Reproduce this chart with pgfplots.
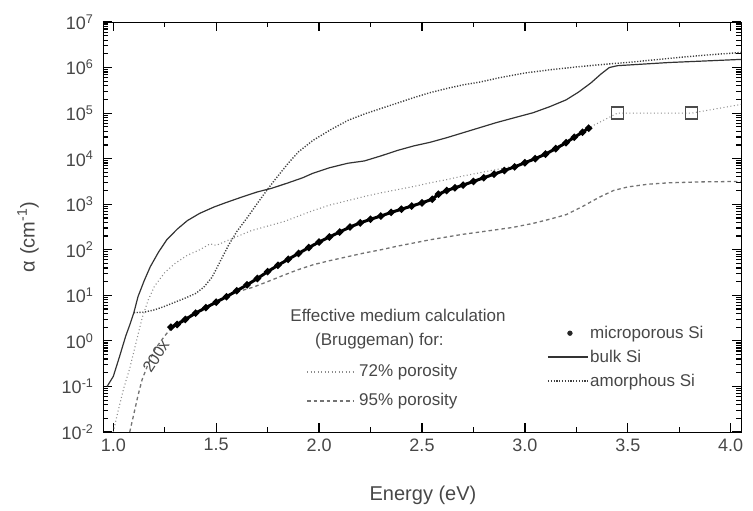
\documentclass[border=0pt]{standalone}
\usepackage{fontspec}
\setmainfont{Liberation Sans}
\usepackage{pgfplots}
\pgfplotsset{compat=1.18}

\definecolor{txt}{gray}{0.28}

\begin{document}
\begin{tikzpicture}
\path[use as bounding box] (-103pt,-79pt) rectangle (650pt,432pt);
\begin{axis}[
  at={(0pt,0pt)}, anchor=south west,
  scale only axis, width=638pt, height=410pt,
  xmin=0.95, xmax=4.05,
  ymode=log, ymin=1e-2, ymax=1e7,
  xtick={1,1.5,2,2.5,3,3.5,4},
  xticklabels={1.0,1.5,2.0,2.5,3.0,3.5,4.0},
  minor xtick={1.25,1.75,2.25,2.75,3.25,3.75},
  ytick={1e-2,1e-1,1,1e1,1e2,1e3,1e4,1e5,1e6,1e7},
  yticklabels={10\textsuperscript{-2},10\textsuperscript{-1},10\textsuperscript{0},10\textsuperscript{1},10\textsuperscript{2},10\textsuperscript{3},10\textsuperscript{4},10\textsuperscript{5},10\textsuperscript{6},10\textsuperscript{7}},
  minor ytick={0.02,0.03,0.04,0.05,0.06,0.07,0.08,0.09,
    0.2,0.3,0.4,0.5,0.6,0.7,0.8,0.9,
    2,3,4,5,6,7,8,9,
    20,30,40,50,60,70,80,90,
    200,300,400,500,600,700,800,900,
    2000,3000,4000,5000,6000,7000,8000,9000,
    2e4,3e4,4e4,5e4,6e4,7e4,8e4,9e4,
    2e5,3e5,4e5,5e5,6e5,7e5,8e5,9e5,
    2e6,3e6,4e6,5e6,6e6,7e6,8e6,9e6},
  xticklabel style={yshift=-3pt},
  yticklabel style={xshift=-6pt},
  tick label style={font=\fontsize{18}{20}\selectfont, color=txt},
  tick align=inside,
  major tick length=9pt, minor tick length=5pt,
  tick style={color=black, line width=1.2pt},
  legend style={draw=none, fill=none, at={(0.696,0.262)}, anchor=north west,
    font=\fontsize{17}{20}\selectfont, text=txt, inner sep=0pt,
    nodes={inner sep=1.5pt}, row sep=7pt},
  legend cell align=left,
]

% amorphous Si
\addplot[forget plot, black!75, line width=1.4pt, dash pattern=on 1.2pt off 1.6pt] coordinates {
(1.10,4.17) (1.15,4.27) (1.20,4.79) (1.25,5.75) (1.30,7.08) (1.35,8.71)
(1.40,11.0) (1.44,15.1) (1.48,25.1) (1.52,56.2) (1.56,126) (1.60,251)
(1.65,501) (1.70,1047) (1.75,2138) (1.80,4169) (1.85,7943) (1.90,14125)
(1.97,25119) (2.05,41687) (2.14,69183) (2.22,95499) (2.30,1.26e5)
(2.38,1.66e5) (2.46,2.19e5) (2.54,2.82e5) (2.62,3.47e5) (2.70,4.17e5)
(2.78,4.79e5) (2.88,6.03e5) (3.00,7.59e5) (3.12,8.91e5) (3.24,1.02e6)
(3.36,1.15e6) (3.52,1.32e6) (3.65,1.51e6) (3.77,1.70e6) (3.90,1.91e6)
(4.05,2.14e6)};

% bulk Si
\addplot[forget plot, black!80, line width=1.2pt] coordinates {
(0.97,0.10) (1.00,0.166) (1.03,0.447) (1.06,1.26) (1.08,2.24) (1.10,4.17)
(1.12,9.33) (1.15,20.9) (1.18,42.7) (1.22,89.1) (1.26,166) (1.31,282)
(1.36,437) (1.42,631) (1.49,871) (1.55,1096) (1.62,1413) (1.70,1862)
(1.77,2239) (1.85,2951) (1.92,3802) (1.97,4786) (2.05,6310) (2.14,7943)
(2.22,8913) (2.30,11482) (2.38,15136) (2.46,19055) (2.54,22909)
(2.62,28840) (2.70,37154) (2.78,47863) (2.86,61660) (2.95,79433)
(3.04,1.02e5) (3.12,1.38e5) (3.20,1.95e5) (3.26,2.88e5) (3.32,4.57e5)
(3.37,7.24e5) (3.41,1.0e6) (3.45,1.10e6) (3.52,1.15e6) (3.70,1.29e6)
(3.90,1.41e6) (4.05,1.51e6)};

% effective medium, 72% porosity
\addplot[forget plot, black!45, line width=1.1pt, dash pattern=on 1pt off 2.5pt] coordinates {
(1.00,0.01) (1.02,0.025) (1.05,0.089) (1.08,0.25) (1.11,0.89) (1.14,3.16)
(1.17,7.94) (1.20,15.8) (1.25,31.6) (1.30,50.1) (1.36,75.9) (1.42,100)
(1.47,135) (1.50,125) (1.58,178) (1.67,263) (1.75,331) (1.83,417)
(1.90,550) (1.97,724) (2.05,955) (2.14,1202) (2.22,1479) (2.30,1778)
(2.38,2089) (2.46,2455) (2.54,2951) (2.62,3467) (2.70,4169) (2.78,4898)
(2.86,5754) (2.94,6761) (3.02,8128)};

% effective medium, 95% porosity
\addplot[forget plot, black!55, line width=1.3pt, dash pattern=on 3.5pt off 3pt] coordinates {
(1.08,0.01) (1.10,0.025) (1.12,0.063) (1.14,0.141) (1.17,0.316) (1.20,0.631)
(1.24,1.12) (1.28,1.91) (1.33,2.82) (1.40,4.27) (1.48,6.61) (1.56,10)
(1.62,12.6) (1.68,15.1) (1.75,20) (1.81,25.7) (1.89,35.5) (1.97,46.8)
(2.05,57.5) (2.14,70.8) (2.22,85.1) (2.30,100) (2.38,120) (2.46,141)
(2.54,166) (2.62,191) (2.70,219) (2.78,245) (2.86,275) (2.94,309)
(3.04,380) (3.12,468) (3.20,589) (3.28,891) (3.36,1413) (3.43,1995)
(3.50,2399) (3.60,2754) (3.70,2951) (3.85,3090) (4.05,3162)};

% microporous Si
\addplot[forget plot, black, line width=3pt, mark=*, mark size=1.8pt] coordinates {
(1.28,2.00) (1.31,2.29) (1.35,2.95) (1.40,4.07) (1.45,5.37) (1.50,7.08)
(1.55,9.33) (1.60,12.6) (1.65,17.0) (1.70,23.4) (1.75,33.1) (1.80,45.7)
(1.85,61.7) (1.90,83.2) (1.95,112) (2.00,148) (2.05,191) (2.10,245)
(2.15,316) (2.20,389) (2.25,468) (2.30,550) (2.35,661) (2.40,776)
(2.45,912) (2.50,1072) (2.55,1288) (2.58,1660) (2.62,1995) (2.66,2291)
(2.70,2630) (2.75,3162) (2.80,3802) (2.85,4571) (2.90,5495) (2.95,6607)
(3.00,8128) (3.05,10000) (3.10,12589) (3.15,16596) (3.20,22387)
(3.24,29512) (3.28,38019) (3.31,46774)};

% high-energy points
\addplot[forget plot, black!45, line width=1pt, dash pattern=on 1pt off 2.5pt] coordinates {
(3.32,5.0e4) (3.45,1.0e5) (3.81,1.0e5) (4.05,1.55e5)};
\addplot[forget plot, only marks, mark=square, mark size=6pt,
  mark options={black!70, line width=1.6pt}] coordinates {
(3.45,1.0e5) (3.81,1.0e5)};

\addlegendimage{legend image code/.code={\fill[black!85] (22pt,0pt) circle (2.4pt);}}
\addlegendentry{microporous Si}
\addlegendimage{legend image code/.code={\draw[black!80, line width=1.2pt] (0pt,0pt) -- (40pt,0pt);}}
\addlegendentry{bulk Si}
\addlegendimage{legend image code/.code={\draw[black!75, line width=1.4pt, dash pattern=on 1.2pt off 1.6pt] (0pt,0pt) -- (40pt,0pt);}}
\addlegendentry{amorphous Si}
\end{axis}

% axis titles
\node[rotate=90, text=txt, font=\fontsize{20}{22}\selectfont] at (-75pt,195pt) {α (cm\textsuperscript{-1})};
\node[text=txt, font=\fontsize{20}{22}\selectfont] at (320pt,-63pt) {Energy (eV)};

% effective medium key
\begin{scope}[font=\fontsize{17}{20}\selectfont, text=txt]
\node at (295pt,117pt) {Effective medium calculation};
\node[anchor=west, inner sep=0pt] at (212pt,91pt) {(Bruggeman) for:};
\draw[black!45, line width=1.1pt, dash pattern=on 1pt off 2.5pt] (204pt,60pt) -- (252pt,60pt);
\node[anchor=west, inner sep=0pt] at (256pt,60pt) {72\% porosity};
\draw[black!55, line width=1.3pt, dash pattern=on 3.5pt off 3pt] (204pt,31pt) -- (250pt,31pt);
\node[anchor=west, inner sep=0pt] at (256pt,31pt) {95\% porosity};
\end{scope}
\node[rotate=57, text=txt, font=\fontsize{16}{18}\selectfont] at (53pt,76pt) {200x};
\end{tikzpicture}
\end{document}
